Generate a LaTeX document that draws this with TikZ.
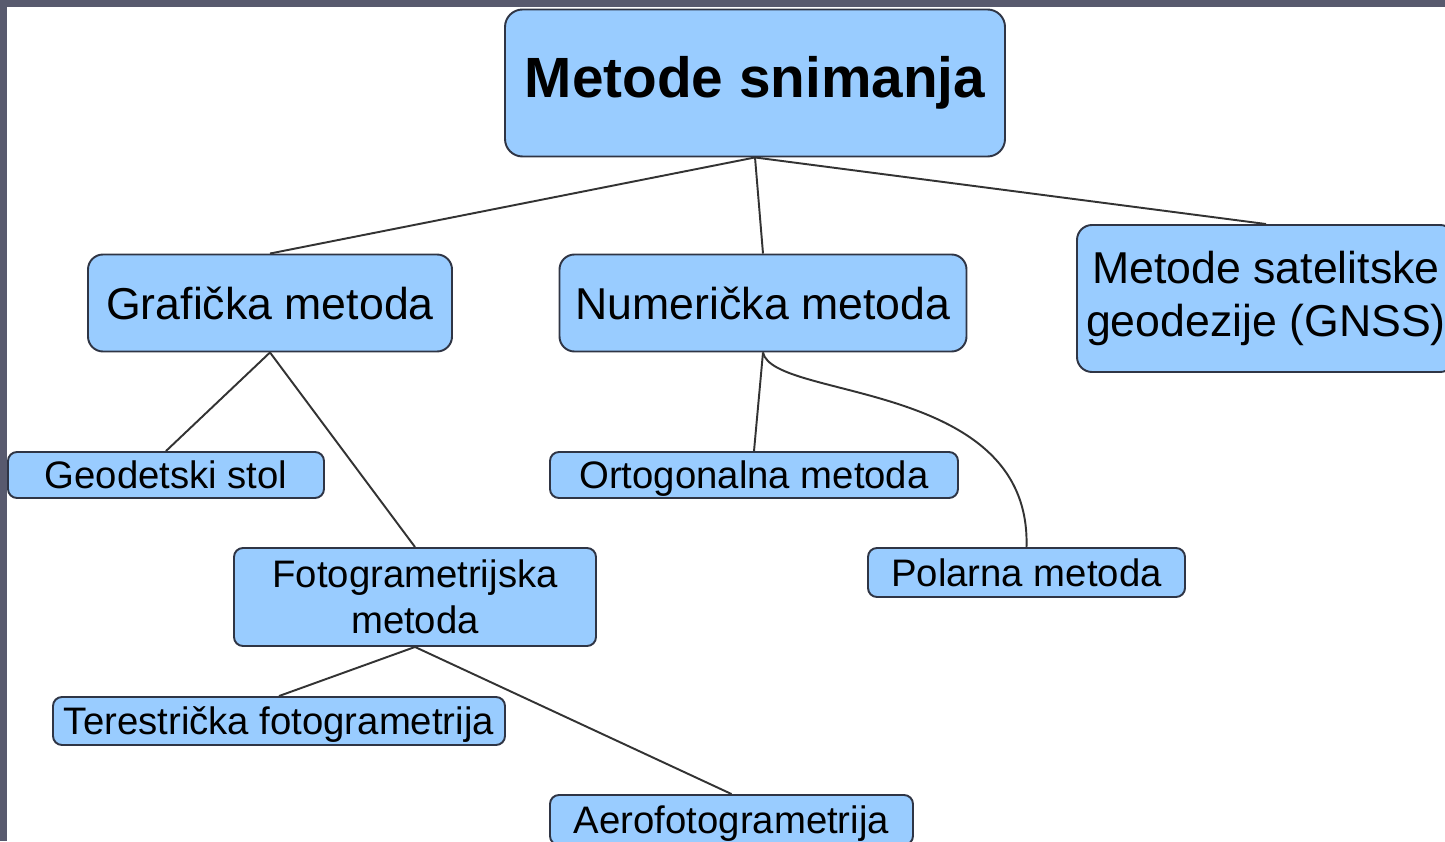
\documentclass[tikz,border=0pt]{standalone}
\usepackage{fontspec}
\setmainfont{Liberation Sans}
\usepackage{xcolor}
\definecolor{boxblue}{HTML}{99CCFF}
\definecolor{boxline}{HTML}{2F3545}
\definecolor{framegray}{HTML}{585A6E}
\definecolor{linegray}{HTML}{333333}

\tikzset{
	metbox/.style={draw=boxline, fill=boxblue, line width=1.1pt, inner sep=0pt, align=center},
	topbox/.style={metbox, rounded corners=0.35cm, font=\fontsize{32.3}{38}\selectfont\bfseries},
	midbox/.style={metbox, rounded corners=0.3cm, font=\fontsize{25.4}{30}\selectfont},
	fotobox/.style={metbox, rounded corners=0.18cm, font=\fontsize{21.8}{26}\selectfont},
	lowbox/.style={fotobox, text height=15.6pt, text depth=0pt},
	veza/.style={draw=linegray, line width=1.1pt}
}

\begin{document}
\begin{tikzpicture}
		\useasboundingbox (0,0) rectangle (28.9,16.82);
		\clip (0,0) rectangle (28.9,16.82);
		% frame
		\fill[framegray] (0,16.68) rectangle (28.9,16.82);
		\fill[framegray] (0,0) rectangle (0.14,16.82);
		
		\draw (15.10cm, 15.16cm) node[topbox, minimum width=10cm, minimum height=2.94cm] (root) {Metode snimanja}
		(5.40cm, 10.76cm) node[midbox, minimum width=7.28cm, minimum height=1.94cm] (graf) {Grafička metoda}
		(15.26cm, 10.76cm) node[midbox, minimum width=8.14cm, minimum height=1.94cm] (num) {Numerička metoda}
		(25.32cm, 10.85cm) node[midbox, minimum width=7.56cm, minimum height=2.94cm] (gnss) {Metode satelitske\\geodezije (GNSS)}
		(3.32cm, 7.32cm) node[lowbox, minimum width=6.32cm, minimum height=0.92cm] (geo) {Geodetski stol}
		(15.08cm, 7.32cm) node[lowbox, minimum width=8.16cm, minimum height=0.92cm] (orto) {Ortogonalna metoda}
		(8.30cm, 4.88cm) node[fotobox, minimum width=7.24cm, minimum height=1.96cm] (foto) {Fotogrametrijska\\metoda}
		(20.53cm, 5.37cm) node[lowbox, minimum width=6.34cm, minimum height=0.98cm] (pol) {Polarna metoda}
		(5.58cm, 2.40cm) node[lowbox, minimum width=9.04cm, minimum height=0.96cm] (ter) {Terestrička fotogrametrija}
		(14.63cm, 0.42cm) node[lowbox, minimum width=7.26cm, minimum height=1.0cm] (aero) {Aerofotogrametrija};
		
		\draw[veza] (root.south) -- (graf.north);
		\draw[veza] (root.south) -- (num.north);
		\draw[veza] (root.south) -- (gnss.north);
		\draw[veza] (graf.south) -- (geo.north);
		\draw[veza] (graf.south) -- (foto.north);
		\draw[veza] (num.south) -- (orto.north);
		\draw[veza] (num.south) .. controls +(0.2cm,-0.96cm) and +(0.1cm,3.36cm) .. (pol.north);
		\draw[veza] (foto.south) -- (ter.north);
		\draw[veza] (foto.south) -- (aero.north);
	\end{tikzpicture}
\end{document}
